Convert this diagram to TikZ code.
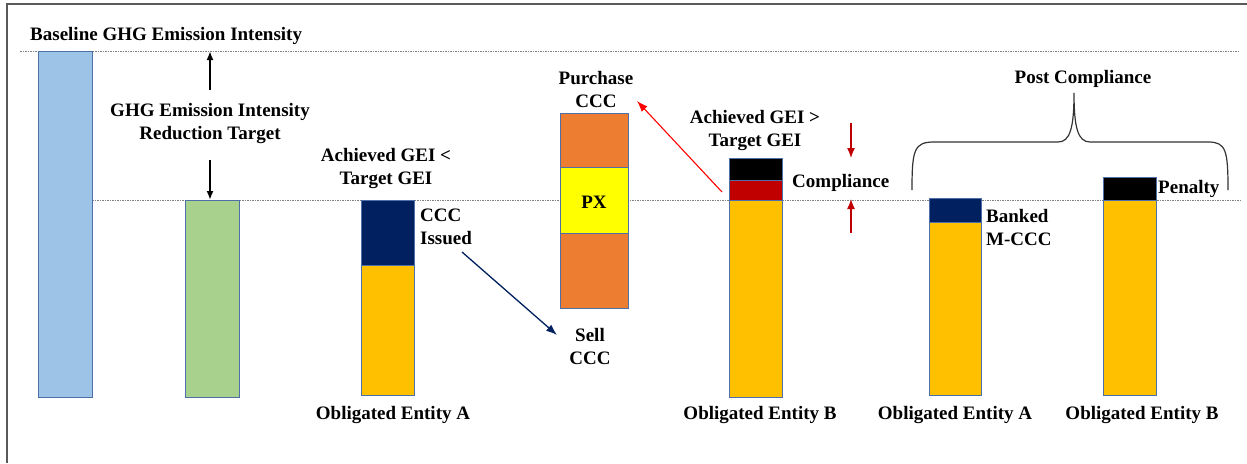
\documentclass[tikz,border=0pt]{standalone}
\usepackage{fontspec}
\setmainfont{Liberation Serif}[BoldFont={Liberation Serif Bold}]
\usetikzlibrary{arrows.meta}
\definecolor{barblue}{HTML}{9DC3E6}
\definecolor{bargreen}{HTML}{A9D18E}
\definecolor{gold}{HTML}{FFC000}
\definecolor{navy}{HTML}{002060}
\definecolor{pxorange}{HTML}{ED7D31}
\definecolor{pxyellow}{HTML}{FFFF00}
\definecolor{darkred}{HTML}{C00000}
\definecolor{edge}{HTML}{4F6FA8}
\definecolor{frame}{HTML}{595959}
\tikzset{
  bar/.style={draw=edge, line width=1pt},
  label/.style={font=\fontsize{19}{23}\selectfont\bfseries, align=center, inner sep=0pt, yshift=-2.5pt},
  leftlabel/.style={label, align=left, anchor=west},
  level/.style={draw=gray, line width=1pt, dash pattern=on 1.5pt off 1pt},
  bigarrow/.style={line width=2pt, -{Latex[length=9pt,width=7pt]}},
  thinarrow/.style={line width=1.1pt, -{Latex[length=11pt,width=8pt]}},
  gaparrow/.style={line width=1.3pt, darkred, -{Latex[length=10pt,width=8pt]}}
}
\begin{document}
\begin{tikzpicture}[x=1pt,y=-1pt]
\useasboundingbox (0,0) rectangle (1247,463);
% outer frame (top and left edges)
\draw[frame, line width=1.6pt] (7,463) -- (7,4) -- (1247,4);

% reference levels
\draw[level] (20,51) -- (1240,51);
\draw[level] (92,200) -- (1240,200);

% baseline and target bars
\draw[bar, fill=barblue] (38,51) rectangle (92,397);
\draw[bar, fill=bargreen] (185,200) rectangle (239,397);

% obligated entity A (before)
\draw[bar, fill=gold] (361,265) rectangle (414,395);
\draw[bar, fill=navy] (361,200) rectangle (414,265);

% exchange PX
\draw[bar, fill=pxorange] (560,233) rectangle (628,308);
\draw[bar, fill=pxyellow] (560,167) rectangle (628,233);
\draw[bar, fill=pxorange] (560,113) rectangle (628,167);

% obligated entity B (before)
\draw[bar, fill=gold] (729,200) rectangle (782,397);
\draw[bar, fill=darkred] (729,180) rectangle (782,200);
\draw[bar, fill=black] (729,158) rectangle (782,180);

% post compliance bars
\draw[bar, fill=gold] (929,222) rectangle (981,395);
\draw[bar, fill=navy] (929,198) rectangle (981,222);
\draw[bar, fill=gold] (1103,200) rectangle (1156,395);
\draw[bar, fill=black] (1103,177) rectangle (1156,200);

% text
\node[leftlabel] (base) at (30,33) {Baseline GHG Emission Intensity};
\node[label] (red) at (210,121) {GHG Emission Intensity\\Reduction Target};
\node[label] (achA) at (386,166) {Achieved GEI <\\Target GEI};
\node[leftlabel] (issued) at (420,224) {CCC\\Issued};
\node[label] (sell) at (590,344) {Sell\\CCC};
\node[label] (buy) at (596,87) {Purchase\\CCC};
\node[label] (px) at (594,200) {PX};
\node[label] (achB) at (755,128) {Achieved GEI >\\Target GEI};
\node[leftlabel] (comp) at (792,180) {Compliance};
\node[leftlabel] (bank) at (986,225) {Banked\\M-CCC};
\node[leftlabel] (pen) at (1158,186) {Penalty};
\node[label] (post) at (1083,76) {Post Compliance};
\node[label] (oeA) at (393,412) {Obligated Entity A};
\node[label] (oeB) at (760,412) {Obligated Entity B};
\node[label] (poA) at (955,412) {Obligated Entity A};
\node[label] (poB) at (1142,412) {Obligated Entity B};

% arrow end points
\coordinate (topT) at (210,51);
\coordinate (botT) at (210,200);
\coordinate (topS) at (210,90);
\coordinate (botS) at (210,160);
\coordinate (sellS) at (462,252);
\coordinate (sellE) at (557,335);
\coordinate (buyS) at (722,192);
\coordinate (buyE) at (637,101);
\coordinate (cTopS) at (851,123);
\coordinate (cTopE) at (851,158);
\coordinate (cBotS) at (851,233);
\coordinate (cBotE) at (851,199);

% reduction target arrows
\draw[bigarrow] (topS) -- (topT);
\draw[bigarrow] (botS) -- (botT);

% trading arrows
\draw[thinarrow, navy, line width=1.3pt] (sellS) -- (sellE);
\draw[thinarrow, red] (buyS) -- (buyE);

% compliance gap arrows
\draw[gaparrow] (cTopS) -- (cTopE);
\draw[gaparrow] (cBotS) -- (cBotE);

% post compliance brace
\draw[black!80, line width=1.2pt]
  (912,190) .. controls (912,150) and (914,142) .. (934,142)
  -- (1058,142) .. controls (1070,142) and (1074,128) .. (1074,93)
  .. controls (1074,128) and (1078,142) .. (1090,142)
  -- (1208,142) .. controls (1226,142) and (1228,150) .. (1228,190);
\end{tikzpicture}
\end{document}
